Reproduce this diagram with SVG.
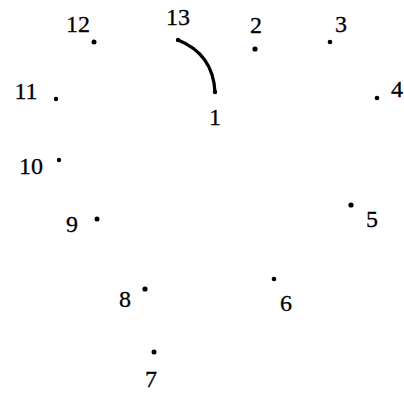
<svg xmlns="http://www.w3.org/2000/svg" width="404" height="397" viewBox="0 0 404 397">
<style>
.lbl{font-family:"Liberation Serif","Times New Roman",serif;font-size:24px;fill:#000;stroke:#000;stroke-width:0.3;text-anchor:middle}
.dot{fill:#000}
.edge{fill:none;stroke:#000;stroke-width:3.2;stroke-linecap:round}
</style>
<rect width="404" height="397" fill="#fff"/>
<g id="connectors">
<path class="edge" d="M178,40 Q213,54 215,92"/>
</g>
<g id="n1"><circle class="dot" cx="215" cy="92" r="2.2"/><text class="lbl" x="215" y="125">1</text></g>
<g id="n2"><circle class="dot" cx="255" cy="49" r="2.6"/><text class="lbl" x="256" y="33">2</text></g>
<g id="n3"><circle class="dot" cx="330" cy="42" r="2.3"/><text class="lbl" x="341" y="32">3</text></g>
<g id="n4"><circle class="dot" cx="377" cy="98" r="2.3"/><text class="lbl" x="397" y="97">4</text></g>
<g id="n5"><circle class="dot" cx="351" cy="205" r="2.6"/><text class="lbl" x="372" y="227">5</text></g>
<g id="n6"><circle class="dot" cx="274" cy="279" r="2.3"/><text class="lbl" x="286" y="311">6</text></g>
<g id="n7"><circle class="dot" cx="154" cy="352" r="2.5"/><text class="lbl" x="151" y="387">7</text></g>
<g id="n8"><circle class="dot" cx="145" cy="289" r="2.6"/><text class="lbl" x="125" y="307">8</text></g>
<g id="n9"><circle class="dot" cx="97" cy="219" r="2.5"/><text class="lbl" x="72" y="232">9</text></g>
<g id="n10"><circle class="dot" cx="59" cy="160" r="2.2"/><text class="lbl" x="31" y="174">10</text></g>
<g id="n11"><circle class="dot" cx="56" cy="99" r="2.2"/><text class="lbl" x="26" y="99">11</text></g>
<g id="n12"><circle class="dot" cx="94" cy="42" r="2.5"/><text class="lbl" x="78" y="32">12</text></g>
<g id="n13"><circle class="dot" cx="178" cy="40" r="2.2"/><text class="lbl" x="178" y="25">13</text></g>
</svg>
